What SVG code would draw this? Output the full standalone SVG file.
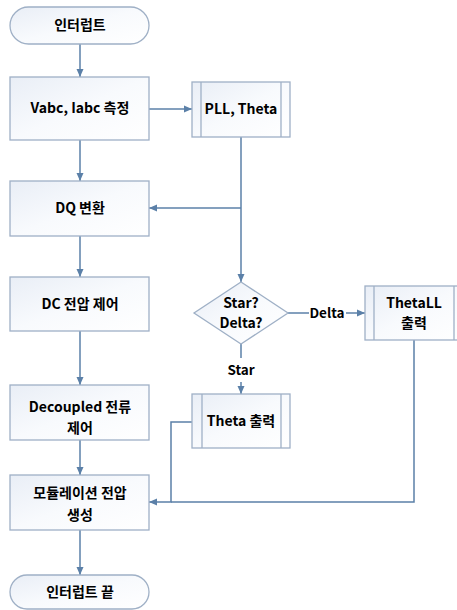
<svg xmlns="http://www.w3.org/2000/svg" width="457" height="610" viewBox="0 0 457 610">
<style>
.box{fill:url(#g);stroke:#9fb0c6;stroke-width:1.3}
.inner{stroke:#9fb0c6;stroke-width:1.3;fill:none}
.t{font-family:"Noto Sans CJK KR","Noto Sans",sans-serif;font-weight:bold;font-size:14px;fill:#000000;text-anchor:middle}
.lbl{font-family:"Noto Sans CJK KR","Noto Sans",sans-serif;font-weight:bold;font-size:13.5px;fill:#000000;text-anchor:middle}
.c{fill:none;stroke:#5b80a8;stroke-width:1.5}
.a{marker-end:url(#arr)}
</style>
<defs>
<linearGradient id="g" x1="0" y1="0" x2="1" y2="1">
<stop offset="0" stop-color="#e9eef6"/>
<stop offset="0.5" stop-color="#f8fafd"/>
<stop offset="1" stop-color="#ffffff"/>
</linearGradient>
<marker id="arr" markerUnits="userSpaceOnUse" markerWidth="9" markerHeight="8" refX="8" refY="4" orient="auto">
<path d="M0,0.5 L8,4 L0,7.5 z" fill="#5b80a8"/>
</marker>
</defs>
<rect width="457" height="610" fill="#ffffff"/>
<g id="connectors">
<path class="c a" d="M80 44 V77"/>
<path class="c a" d="M80 140 V181"/>
<path class="c a" d="M80 236 V277"/>
<path class="c a" d="M80 331 V385"/>
<path class="c a" d="M80 440 V475"/>
<path class="c a" d="M80 530 V575"/>
<path class="c a" d="M149 109 H192"/>
<path class="c a" d="M241 137 V282"/>
<path class="c a" d="M241 208 H149"/>
<path class="c" d="M288 313 H309"/>
<path class="c a" d="M346 313 H365"/>
<path class="c" d="M241 344 V358"/>
<path class="c a" d="M241 382 V394"/>
<path class="c a" d="M192 422 H171 V502 H149"/>
<path class="c" d="M414 340 V502 H171"/>
<text class="lbl" x="327" y="318">Delta</text>
<text class="lbl" x="241" y="375">Star</text>
</g>
<g id="start">
<rect class="box" x="10" y="7" width="139" height="37" rx="18.5"/>
<text class="t" x="80" y="30">인터럽트</text>
</g>
<g id="measure">
<rect class="box" x="10" y="77" width="139" height="63"/>
<text class="t" x="80" y="113">Vabc, Iabc 측정</text>
</g>
<g id="pll">
<rect class="box" x="192" y="82" width="98" height="55"/>
<line class="inner" x1="201" y1="82" x2="201" y2="137"/>
<line class="inner" x1="281" y1="82" x2="281" y2="137"/>
<text class="t" x="241" y="114">PLL, Theta</text>
</g>
<g id="dq">
<rect class="box" x="10" y="181" width="139" height="55"/>
<text class="t" x="80" y="213">DQ 변환</text>
</g>
<g id="dc">
<rect class="box" x="10" y="277" width="139" height="54"/>
<text class="t" x="80" y="309">DC 전압 제어</text>
</g>
<g id="decision">
<polygon class="box" points="241,282 288,313 241,344 194,313"/>
<text class="t" x="241" y="308">Star?</text>
<text class="t" x="241" y="328">Delta?</text>
</g>
<g id="thetall">
<rect class="box" x="365" y="286" width="98" height="54"/>
<line class="inner" x1="374" y1="286" x2="374" y2="340"/>
<line class="inner" x1="454" y1="286" x2="454" y2="340"/>
<text class="t" x="414" y="308">ThetaLL</text>
<text class="t" x="414" y="328">출력</text>
</g>
<g id="decoupled">
<rect class="box" x="10" y="385" width="139" height="55"/>
<text class="t" x="80" y="412">Decoupled 전류</text>
<text class="t" x="80" y="433">제어</text>
</g>
<g id="theta">
<rect class="box" x="192" y="394" width="98" height="54"/>
<line class="inner" x1="202" y1="394" x2="202" y2="448"/>
<line class="inner" x1="281" y1="394" x2="281" y2="448"/>
<text class="t" x="241" y="426">Theta 출력</text>
</g>
<g id="modulation">
<rect class="box" x="10" y="475" width="139" height="55"/>
<text class="t" x="80" y="498">모듈레이션 전압</text>
<text class="t" x="80" y="520">생성</text>
</g>
<g id="end">
<rect class="box" x="10" y="575" width="139" height="34" rx="17"/>
<text class="t" x="80" y="597">인터럽트 끝</text>
</g>
</svg>
